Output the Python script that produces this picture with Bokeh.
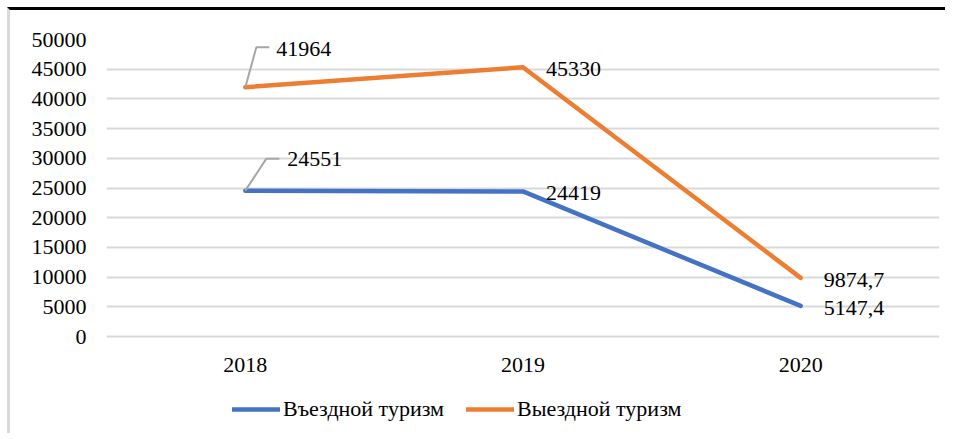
from bokeh.plotting import figure
from bokeh.models import (ColumnDataSource, FixedTicker, Legend, LegendItem, Range1d)
from bokeh.core.properties import value
from bokeh.embed import file_html
from bokeh.resources import INLINE

years = ["2018", "2019", "2020"]
inbound = [24551, 24419, 5147.4]
outbound = [41964, 45330, 9874.7]
inbound_labels = ["24551", "24419", "5147,4"]
outbound_labels = ["41964", "45330", "9874,7"]
y_ticks = [0, 5000, 10000, 15000, 20000, 25000, 30000, 35000, 40000, 45000, 50000]

FONT = "'Liberation Serif', 'Times New Roman', serif"
FS = "22px"
BLUE = "#4472C4"
ORANGE = "#ED7D31"
GRID = "#D9D9D9"

YMAX = 50000
PLOT_PX = 297          # px from 0 to 50000
EXTRA_PX = 92          # frame extends below zero to host the legend
ML, MR, MT = 96, 9, 29
FW = 833
FH = PLOT_PX + EXTRA_PX
MB = 8
W = ML + FW + MR
H = MT + FH + MB

xs = [i + 0.5 for i in range(len(years))]
dy = YMAX / PLOT_PX
dx = len(years) / FW

p = figure(width=W, height=H, output_backend="svg", toolbar_location=None,
           x_range=Range1d(0, len(years)), y_range=Range1d(-EXTRA_PX * dy, YMAX),
           min_border_left=ML, min_border_right=MR, min_border_top=MT, min_border_bottom=MB)
p.outline_line_color = None
p.background_fill_color = "white"
p.styles = {"border-top": "3px solid black", "border-left": "3px solid #D9D9D9",
            "margin-top": "7px", "margin-left": "7px"}

p.xaxis.ticker = FixedTicker(ticks=xs)
p.xaxis.major_label_overrides = {x: y for x, y in zip(xs, years)}
p.xaxis.fixed_location = 0
p.yaxis.ticker = FixedTicker(ticks=y_ticks)
for ax in (p.xaxis[0], p.yaxis[0]):
    ax.axis_line_color = None
    ax.major_tick_line_color = None
    ax.minor_tick_line_color = None
    ax.major_tick_out = 0
    ax.major_tick_in = 0
    ax.major_label_text_font = FONT
    ax.major_label_text_font_size = FS
    ax.major_label_text_color = "#000000"
p.yaxis.major_label_standoff = 20
p.xaxis.major_label_standoff = 21
p.xgrid.grid_line_color = None
p.ygrid.grid_line_color = GRID
p.ygrid.grid_line_width = 2
p.ygrid.ticker = FixedTicker(ticks=y_ticks)

src = ColumnDataSource(dict(x=xs, inb=inbound, outb=outbound,
                            inl=inbound_labels, outl=outbound_labels))

r_in = p.line("x", "inb", source=src, line_color=BLUE, line_width=4.5,
              line_cap="round", line_join="round")
r_out = p.line("x", "outb", source=src, line_color=ORANGE, line_width=4.5,
               line_cap="round", line_join="round")

# leader lines for first-year labels (offsets in px converted to data units)
lead_x = []
lead_y = []
for val, (ux, uy, hx) in ((outbound[0], (11, 40, 24)), (inbound[0], (21, 32, 34))):
    lead_x.append([xs[0], xs[0] + ux * dx, xs[0] + hx * dx])
    lead_y.append([val, val + uy * dy, val + uy * dy])
p.multi_line(lead_x, lead_y, line_color="#A6A6A6", line_width=2)

# first-year labels
p.text(x=[xs[0], xs[0]], y=[outbound[0], inbound[0]], text=[outbound_labels[0], inbound_labels[0]],
       x_offset=[31, 42], y_offset=[-38, -32], text_baseline="middle", text_align="left",
       text_font=value(FONT), text_font_size=FS, text_color="#000000")
# other labels to the right
p.text(x=xs[1:], y=outbound[1:], text=outbound_labels[1:], x_offset=23, y_offset=2,
       text_baseline="middle", text_align="left",
       text_font=value(FONT), text_font_size=FS, text_color="#000000")
p.text(x=xs[1:], y=inbound[1:], text=inbound_labels[1:], x_offset=23, y_offset=2,
       text_baseline="middle", text_align="left",
       text_font=value(FONT), text_font_size=FS, text_color="#000000")

legend = Legend(items=[LegendItem(label="Въездной туризм", renderers=[r_in]),
                       LegendItem(label="Выездной туризм", renderers=[r_out])],
                orientation="horizontal", location=(126, 6),
                label_text_font=FONT, label_text_font_size=FS, label_text_color="#000000",
                glyph_width=48, glyph_height=20, label_standoff=3, spacing=22,
                padding=0, margin=0, border_line_color=None, background_fill_alpha=0)
p.add_layout(legend, "center")

open("out.html", "w").write(file_html(p, INLINE))
